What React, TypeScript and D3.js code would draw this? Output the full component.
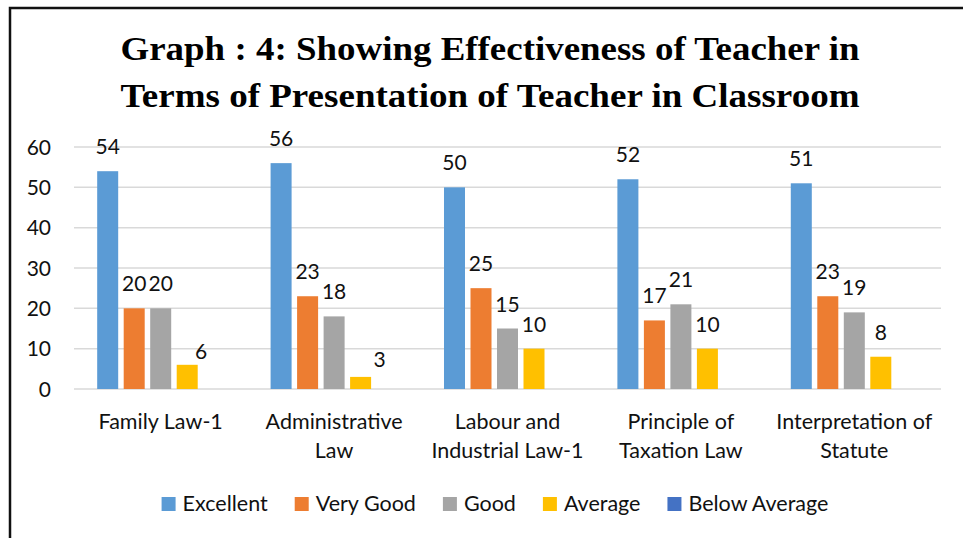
import * as d3 from 'd3'
import { useEffect, useRef } from "react";

// chart data
const categories = [
    ["Family Law-1"],
    ["Administrative", "Law"],
    ["Labour and", "Industrial Law-1"],
    ["Principle of", "Taxation Law"],
    ["Interpretation of", "Statute"],
];
const seriesNames = ["Excellent", "Very Good", "Good", "Average", "Below Average"];
const excellent = [54, 56, 50, 52, 51];
const veryGood = [20, 23, 25, 17, 23];
const good = [20, 18, 15, 21, 19];
const average = [6, 3, 10, 10, 8];
const belowAverage = [0, 0, 0, 0, 0];
const yTicks = [0, 10, 20, 30, 40, 50, 60];
const titleLines = [
    "Graph : 4: Showing Effectiveness of Teacher in",
    "Terms of Presentation of Teacher in Classroom",
];

const colors = ["#5B9BD5", "#ED7D31", "#A5A5A5", "#FFC000", "#4472C4"];

export default function App() {
    const svgRef = useRef(null);

    const width = 963, height = 538;
    const plot = { left: 74, right: 941, top: 147, bottom: 389 };
    const font = "Lato, 'Open Sans', sans-serif";

    useEffect(() => {
        const svg = d3.select(svgRef.current);
        svg.selectAll("*").remove();

        const values = [excellent, veryGood, good, average, belowAverage];

        const x0 = d3.scaleBand()
            .domain(categories.map((c, i) => String(i)))
            .range([plot.left, plot.right]);
        const x1 = d3.scaleBand()
            .domain(seriesNames)
            .range([0, x0.bandwidth()])
            .paddingInner(0.2075)
            .paddingOuter(0.875);
        const y = d3.scaleLinear().domain([0, 60]).range([plot.bottom, plot.top]);

        // frame
        svg.append("path")
            .attr("d", `M10,${height} L10,8 L${width},8`)
            .attr("fill", "none")
            .attr("stroke", "#111")
            .attr("stroke-width", 2.5);

        // title
        svg.append("g").selectAll("text")
            .data(titleLines)
            .enter().append("text")
            .attr("x", 490)
            .attr("y", (d, i) => 60 + i * 47)
            .attr("text-anchor", "middle")
            .attr("textLength", 739)
            .attr("lengthAdjust", "spacingAndGlyphs")
            .style("font-family", "'Liberation Serif', 'Times New Roman', serif")
            .style("font-weight", "bold")
            .style("font-size", "34px")
            .attr("fill", "#000")
            .text(d => d);

        // gridlines
        svg.append("g").selectAll("line")
            .data(yTicks)
            .enter().append("line")
            .attr("x1", plot.left)
            .attr("x2", plot.right)
            .attr("y1", d => y(d))
            .attr("y2", d => y(d))
            .attr("stroke", "#d9d9d9")
            .attr("stroke-width", 1.5);

        // y tick labels
        svg.append("g").selectAll("text")
            .data(yTicks)
            .enter().append("text")
            .attr("x", 51)
            .attr("y", d => y(d) + 7.5)
            .attr("text-anchor", "end")
            .style("font-family", font)
            .style("font-size", "21px")
            .attr("fill", "#111")
            .text(d => d);

        // bars
        const groups = svg.append("g").selectAll("g")
            .data(categories)
            .enter().append("g")
            .attr("transform", (d, i) => `translate(${x0(String(i))},0)`);

        groups.selectAll("rect")
            .data((d, i) => seriesNames.map((s, j) => ({ s, j, v: values[j][i] })))
            .enter().append("rect")
            .attr("x", d => x1(d.s))
            .attr("width", x1.bandwidth())
            .attr("y", d => y(d.v))
            .attr("height", d => y(0) - y(d.v))
            .attr("fill", d => colors[d.j]);

        // value labels (Below Average has no labels)
        const labelNudge = { "0-3": [14, 11], "1-3": [19, 7] };
        groups.selectAll("text.val")
            .data((d, i) => seriesNames.slice(0, 4).map((s, j) => ({ s, j, i, v: values[j][i] })))
            .enter().append("text")
            .attr("class", "val")
            .attr("x", d => x1(d.s) + x1.bandwidth() / 2 + (labelNudge[`${d.i}-${d.j}`]?.[0] || 0))
            .attr("y", d => y(d.v) - 17 + (labelNudge[`${d.i}-${d.j}`]?.[1] || 0))
            .attr("text-anchor", "middle")
            .style("font-family", font)
            .style("font-size", "21px")
            .attr("fill", "#111")
            .text(d => d.v);

        // category labels
        groups.append("text")
            .attr("text-anchor", "middle")
            .style("font-family", font)
            .style("font-size", "21.5px")
            .attr("fill", "#111")
            .selectAll("tspan")
            .data(d => d)
            .enter().append("tspan")
            .attr("x", x0.bandwidth() / 2)
            .attr("y", (d, k) => 429 + k * 29)
            .text(d => d);

        // legend
        const legend = svg.append("g");
        const items = legend.selectAll("g")
            .data(seriesNames)
            .enter().append("g");
        items.append("rect")
            .attr("width", 14)
            .attr("height", 14)
            .attr("y", 497)
            .attr("fill", (d, i) => colors[i]);
        items.append("text")
            .attr("x", 21)
            .attr("y", 511)
            .style("font-family", font)
            .style("font-size", "21.5px")
            .attr("fill", "#111")
            .text(d => d);

        let cursor = 0;
        items.each(function () {
            const g = d3.select(this);
            g.attr("transform", `translate(${cursor},0)`);
            const w = g.select("text").node().getComputedTextLength();
            cursor += 21 + w + 27;
        });
        const total = cursor - 27;
        legend.attr("transform", `translate(${495 - total / 2},0)`);
    }, []);

    return (
        <svg
            ref={svgRef}
            width={width}
            height={height}
            style={{ position: "absolute", left: 0, top: 0, background: "#fff" }}
        />
    );
}
